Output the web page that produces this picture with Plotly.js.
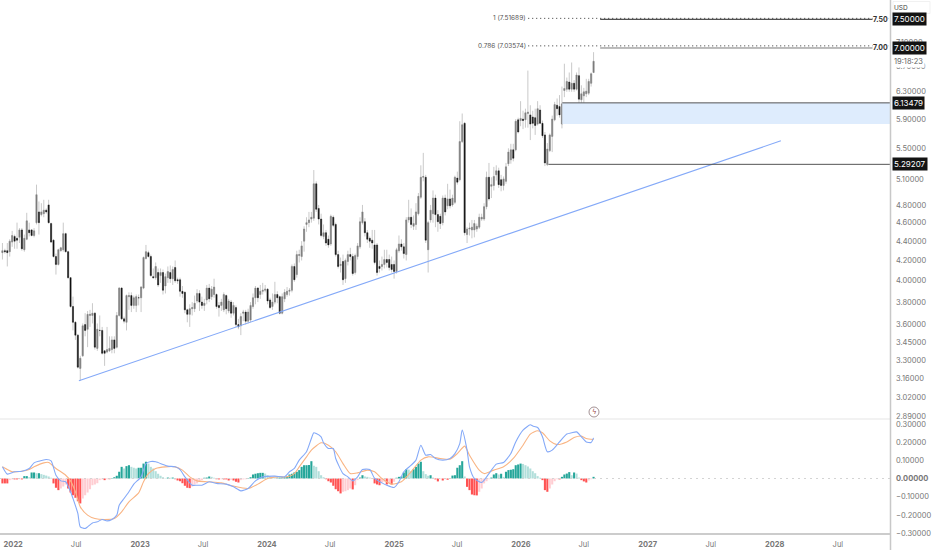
<!DOCTYPE html>
<html>
<head>
<meta charset="utf-8">
<script src="https://cdn.plot.ly/plotly-3.0.1.min.js"></script>
<style>html,body{margin:0;padding:0;background:#fff}#chart{width:932px;height:550px}</style>
</head>
<body>
<div id="chart"></div>
<script>
const firstCandle = '2021-12-01';
const opens = [4.28,4.30,4.30,4.29,4.39,4.45,4.43,4.44,4.52,4.31,
4.42,4.52,4.52,4.46,4.60,4.72,4.69,4.70,4.74,4.80,
4.59,4.41,4.24,4.16,4.30,4.31,4.48,4.29,4.03,3.76,
3.62,3.51,3.24,3.34,3.60,3.56,3.68,3.68,3.70,3.40,
3.55,3.55,3.38,3.37,3.38,3.39,3.47,3.41,3.68,3.93,
3.65,3.62,3.85,3.86,3.77,3.77,3.84,3.84,3.93,4.22,
4.28,4.24,4.04,4.03,4.08,4.05,4.08,3.95,4.03,4.08,
4.02,4.13,4.01,4.01,3.90,3.89,3.73,3.69,3.74,3.74,
3.81,3.88,3.80,3.77,3.82,3.93,3.85,3.87,3.87,3.77,
3.77,3.73,3.86,3.72,3.80,3.70,3.75,3.60,3.59,3.70,
3.71,3.63,3.64,3.76,3.84,3.93,3.87,3.90,3.91,3.92,
3.82,3.76,3.80,3.87,3.85,3.70,3.83,3.87,3.90,3.91,
4.14,4.06,4.25,4.24,4.40,4.58,4.60,4.64,4.65,5.05,
4.76,4.64,4.45,4.49,4.42,4.37,4.66,4.58,4.26,4.15,
4.19,4.02,4.19,4.26,4.24,4.08,4.24,4.34,4.60,4.61,
4.49,4.43,4.41,4.36,4.36,4.14,4.14,4.16,4.21,4.21,
4.16,4.16,4.09,4.30,4.37,4.34,4.26,4.63,4.66,4.56,
4.58,4.70,4.89,5.13,5.13,4.31,4.63,4.70,4.88,4.69,
4.67,4.60,4.88,4.79,4.87,4.80,4.83,5.12,5.10,5.59,
5.84,4.47,4.53,4.52,4.52,4.53,4.55,4.64,4.64,4.78,
5.13,5.02,5.03,5.16,5.21,5.10,5.03,5.08,5.30,5.35,
5.48,5.48,5.89,5.88,5.90,5.89,5.98,5.96,5.93,5.92,
5.83,6.03,5.84,5.68,5.29,5.47,5.66,5.89,6.10,6.08,
5.83,6.32,6.34,6.45,6.34,6.43,6.34,6.55,6.18,6.24,
6.27,6.28,6.43,6.60];
const highs = [4.38,4.32,4.38,4.42,4.51,4.47,4.60,4.54,4.54,4.47,
4.71,4.60,4.53,4.54,5.04,4.84,4.82,4.86,4.76,4.86,
4.60,4.42,4.27,4.32,4.34,4.60,4.49,4.30,4.03,3.85,
3.63,3.52,3.34,3.61,3.70,3.72,3.73,3.79,3.71,3.61,
3.68,3.58,3.38,3.58,3.50,3.50,3.50,3.71,3.94,3.94,
3.67,3.87,3.89,3.89,3.86,3.87,3.87,3.95,4.24,4.36,
4.30,4.26,4.12,4.18,4.12,4.12,4.11,4.07,4.14,4.15,
4.14,4.20,4.03,4.03,3.95,3.90,3.74,3.78,3.80,3.86,
3.92,3.91,3.85,3.83,3.96,3.97,3.95,4.02,3.88,3.80,
3.83,3.89,3.87,3.83,3.82,3.80,3.77,3.65,3.70,3.73,
3.73,3.74,3.80,3.88,3.95,3.94,3.96,3.98,3.96,3.93,
3.84,3.88,3.99,3.90,3.86,3.88,3.92,3.94,3.93,4.16,
4.17,4.30,4.31,4.40,4.56,4.66,4.72,4.72,5.22,5.08,
4.80,4.70,4.58,4.52,4.46,4.69,4.68,4.60,4.30,4.23,
4.26,4.22,4.30,4.33,4.27,4.27,4.38,4.66,4.80,4.65,
4.52,4.45,4.52,4.52,4.38,4.20,4.24,4.31,4.31,4.26,
4.24,4.20,4.33,4.46,4.42,4.38,4.66,4.86,4.76,4.68,
4.82,4.94,5.28,5.44,5.16,4.62,4.80,4.97,4.92,4.74,
4.70,4.91,4.92,5.05,4.98,4.92,5.15,5.20,5.87,5.98,
5.86,4.55,4.60,4.63,4.63,4.59,4.70,4.70,4.82,5.20,
5.31,5.13,5.26,5.28,5.25,5.16,5.14,5.31,5.50,5.56,
5.56,5.90,5.92,6.16,6.02,6.05,6.63,6.10,6.02,6.05,
6.16,6.10,5.88,5.72,5.57,5.70,5.95,6.15,6.20,6.25,
6.38,6.74,6.52,6.60,6.76,6.48,6.60,6.68,6.40,6.36,
6.50,6.50,6.60,6.93];
const lows = [4.21,4.27,4.14,4.24,4.34,4.32,4.32,4.38,4.30,4.29,
4.41,4.45,4.45,4.44,4.58,4.47,4.67,4.66,4.70,4.59,
4.38,4.23,4.06,4.15,4.29,4.29,4.28,4.02,3.75,3.55,
3.47,3.24,3.145,3.33,3.50,3.41,3.58,3.61,3.39,3.38,
3.50,3.35,3.26,3.36,3.37,3.36,3.36,3.40,3.67,3.64,
3.61,3.55,3.73,3.71,3.74,3.71,3.77,3.71,3.92,4.21,
4.23,4.04,4.02,4.01,3.94,3.98,3.87,3.88,3.98,3.98,
3.96,3.98,3.97,3.85,3.84,3.70,3.62,3.58,3.68,3.71,
3.79,3.72,3.74,3.72,3.78,3.80,3.82,3.84,3.74,3.67,
3.72,3.71,3.69,3.70,3.66,3.68,3.58,3.56,3.51,3.63,
3.60,3.61,3.62,3.74,3.78,3.80,3.83,3.87,3.89,3.78,
3.74,3.73,3.78,3.79,3.69,3.69,3.80,3.85,3.86,3.89,
3.99,4.03,4.18,4.20,4.29,4.50,4.55,4.60,4.62,4.72,
4.58,4.44,4.42,4.35,4.33,4.35,4.55,4.24,4.12,4.08,
3.96,3.98,4.15,4.20,4.05,4.06,4.21,4.32,4.58,4.45,
4.38,4.33,4.32,4.16,4.05,4.08,4.10,4.12,4.13,4.10,
4.08,4.02,4.07,4.28,4.30,4.22,4.20,4.60,4.54,4.52,
4.52,4.68,4.87,5.08,4.38,4.08,4.60,4.60,4.55,4.50,
4.53,4.57,4.68,4.75,4.76,4.78,4.81,5.04,5.08,5.57,
4.46,4.38,4.46,4.43,4.44,4.50,4.53,4.62,4.62,4.75,
4.85,4.88,4.97,5.09,5.00,4.96,4.97,5.05,5.27,5.30,
5.33,5.46,5.70,5.80,5.76,5.78,5.78,5.61,5.77,5.68,
5.81,5.83,5.64,5.27,5.27,5.45,5.45,5.87,5.95,5.92,
5.77,6.22,6.30,6.30,6.30,6.30,6.32,5.98,6.02,6.08,
6.22,6.25,6.38,6.59];
const closes = [4.30,4.29,4.28,4.40,4.46,4.40,4.41,4.52,4.32,4.43,
4.62,4.49,4.46,4.51,4.92,4.60,4.72,4.74,4.72,4.60,
4.39,4.24,4.16,4.31,4.33,4.48,4.29,4.03,3.76,3.62,
3.51,3.25,3.32,3.59,3.55,3.69,3.69,3.70,3.41,3.56,
3.55,3.36,3.36,3.39,3.40,3.47,3.40,3.68,3.93,3.65,
3.63,3.86,3.86,3.77,3.84,3.85,3.84,3.94,4.23,4.29,
4.24,4.05,4.03,4.14,3.96,4.08,3.91,4.04,4.09,4.02,
4.11,4.00,4.00,3.90,3.88,3.73,3.69,3.74,3.75,3.79,
3.88,3.80,3.77,3.79,3.93,3.83,3.92,3.94,3.76,3.75,
3.80,3.87,3.74,3.81,3.70,3.77,3.60,3.58,3.67,3.71,
3.63,3.71,3.77,3.84,3.93,3.84,3.90,3.91,3.92,3.81,
3.75,3.80,3.87,3.84,3.70,3.85,3.89,3.90,3.91,4.14,
4.01,4.26,4.26,4.35,4.53,4.60,4.63,4.66,5.05,4.75,
4.64,4.46,4.49,4.38,4.36,4.67,4.57,4.26,4.14,4.16,
4.01,4.20,4.26,4.24,4.07,4.25,4.35,4.61,4.72,4.49,
4.42,4.40,4.38,4.18,4.08,4.12,4.16,4.21,4.18,4.13,
4.11,4.09,4.31,4.37,4.34,4.27,4.63,4.66,4.58,4.59,
4.72,4.90,5.13,5.14,4.41,4.60,4.74,4.88,4.69,4.61,
4.59,4.88,4.72,4.87,4.79,4.88,5.13,5.07,5.59,5.82,
4.49,4.53,4.54,4.55,4.59,4.56,4.66,4.66,4.78,5.13,
4.87,5.04,5.14,5.21,5.04,5.03,5.11,5.26,5.45,5.48,
5.37,5.87,5.72,5.91,5.88,5.99,6.00,5.83,5.84,5.81,
6.05,5.84,5.67,5.31,5.49,5.68,5.90,6.11,6.05,5.96,
6.12,6.35,6.46,6.34,6.43,6.34,6.56,6.19,6.27,6.30,
6.31,6.46,6.58,6.78];
const histogram = [-.027,-.027,-.027,-.009,-.005,-.005,-.005,-.004,-.005,.013,
.013,.007,.033,.033,.029,.029,.024,.02,.016,.011,
.004,-.027,-.051,-.064,-.055,-.044,-.033,-.055,-.077,-.092,
-.106,-.125,-.137,-.11,-.092,-.077,-.059,-.037,-.033,-.026,
-.009,-.005,-.009,-.004,-.004,.002,.007,.015,.037,.064,
.055,.068,.073,.064,.059,.055,.059,.059,.082,.092,
.082,.064,.055,.04,.026,.015,.007,.002,.005,.004,
.005,-.004,-.011,-.015,-.026,-.04,-.051,-.053,-.044,-.033,
-.027,-.018,-.009,.004,.005,.011,.009,.004,-.004,-.005,
-.004,-.005,-.005,-.011,-.007,-.011,-.018,-.022,-.009,-.005,
-.004,.002,.007,.022,.026,.029,.031,.031,.027,.018,
.011,.007,.005,.005,.005,.006,.007,.011,.022,.026,
.033,.037,.046,.064,.073,.073,.074,.095,.07,.064,
.04,.018,.007,-.004,-.015,-.022,-.04,-.059,-.07,-.082,
-.073,-.07,-.064,-.055,-.06,-.037,-.009,.005,.018,.011,
.009,.005,-.002,-.027,-.033,-.037,-.022,-.018,-.033,-.027,
-.033,-.018,.004,.009,.011,.033,.051,.049,.04,.051,
.064,.082,.092,.04,.024,.015,.018,.005,-.005,-.016,
-.004,-.011,-.004,-.007,.002,.016,.018,.059,.073,.095,
.011,-.046,-.064,-.088,-.092,-.093,-.073,-.055,-.027,-.015,
-.004,.005,.022,.029,.022,.026,.009,.037,.046,.048,
.051,.073,.077,.082,.08,.073,.066,.055,.04,.029,
.013,.004,-.009,-.064,-.073,-.055,-.033,-.015,-.004,-.005,
.009,.022,.027,.035,.018,.033,.027,.005,-.009,-.016,
-.022,-.011,-.004,.009];
const macdWeeks = [0,2,5,8,11,13,15,18,20,22,24,26,28,29,31,32,34,35,37,39,41,43,45,47,48,50,52,54,57,59,61,63,66,68,71,73,75,78,80,82,85,88,92,95,98,101,104,107,112,116,118,120,122,125,127,128,129,131,132,134,136,137,140,142,144,146,148,151,153,156,158,161,163,165,168,170,172,174,176,178,181,184,186,188,189,191,192,194,197,200,203,206,209,211,214,217,218,220,222,224,226,229,232,234,236,238,240,242,243];
const macdLine = [.064,.024,.037,.04,.055,.086,.095,.104,.097,.018,-.013,-.018,-.073,-.11,-.192,-.266,-.275,-.266,-.244,-.238,-.225,-.233,-.225,-.201,-.147,-.11,-.073,-.031,.009,.082,.093,.092,.077,.068,.064,.049,.009,-.037,-.037,-.037,-.018,-.027,-.031,-.046,-.068,-.055,-.013,.009,.013,.009,.037,.055,.101,.147,.22,.251,.247,.229,.196,.165,.165,.11,.027,.009,-.013,.009,.049,.049,0,-.024,-.037,-.049,-.018,.037,.073,.101,.183,.128,.132,.11,.101,.11,.137,.192,.266,.156,.064,0,-.022,.027,.079,.088,.137,.201,.266,.295,.288,.28,.229,.147,.156,.201,.244,.251,.256,.229,.201,.198,.223];
const signalWeeks = [0,2,4,8,11,13,17,19,22,26,28,30,32,35,38,42,46,49,52,56,58,60,63,67,71,74,77,80,84,90,95,101,105,109,113,117,120,122,125,127,131,134,137,140,143,146,150,153,156,160,164,168,172,175,180,184,187,190,192,196,198,202,206,210,214,217,220,222,225,228,232,235,238,240,243];
const signalLine = [.064,.049,.037,.04,.049,.064,.086,.088,.055,.018,-.013,-.073,-.156,-.201,-.22,-.225,-.22,-.183,-.128,-.079,-.018,.027,.055,.064,.064,.046,.009,-.013,-.018,-.024,-.042,-.055,-.031,0,.009,.009,.027,.064,.119,.156,.196,.183,.147,.082,.027,.031,.046,.037,0,-.031,-.018,.037,.101,.119,.11,.106,.137,.178,.128,.046,.027,.046,.064,.11,.183,.244,.262,.251,.207,.187,.201,.225,.233,.22,.214];
const trendDates = ['2022-07-09','2028-01-19'];
const trendPrices = [3.145,5.60];
const zoneDates = ['2026-04-30','2028-11-28'];
const zoneTop = 6.13479;
const zoneBottom = 5.83;
const lowLevelStart = '2026-03-21';
const lowLevel = 5.29207;
const fibLevels = [7.51689,7.03574];
const fibLabels = ['1 (7.51689)','0.786 (7.03574)'];
const fibDates = ['2026-01-22','2028-11-24'];
const roundLevels = [7.5,7.0];
const roundLabels = ['7.50','7.00'];
const roundDates = ['2026-08-17','2028-10-12'];
const axisDates = ['2021-11-24','2028-11-28'];
const priceTicks = [7.5,7.1,6.7,6.3,5.9,5.5,5.1,4.8,4.6,4.4,4.2,4.0,3.8,3.6,3.45,3.3,3.16,3.02,2.89];
const priceTickText = ['7.50000','7.10000','6.70000','6.30000','5.90000','5.50000','5.10000','4.80000','4.60000','4.40000','4.20000','4.00000','3.80000','3.60000','3.45000','3.30000','3.16000','3.02000','2.89000'];
const macdTicks = [.3,.2,.1,0,-.1,-.2,-.3];
const macdTickText = ['0.30000','0.20000','0.10000','<b>0.00000</b>','\u22120.10000','\u22120.20000','\u22120.30000'];
const timeTicks = ['2022-01-01','2022-07-01','2023-01-01','2023-07-01','2024-01-01','2024-07-01','2025-01-01','2025-07-01','2026-01-01','2026-07-01','2027-01-01','2027-07-01','2028-01-01','2028-07-01'];
const timeLabels = ['2022','Jul','2023','Jul','2024','Jul','2025','Jul','2026','Jul','2027','Jul','2028','Jul'];

const W = 932, H = 550;
const px = v => v / W, py = v => 1 - v / H;
const font = 'Inter, Roboto, sans-serif';
const day = 864e5;
const start = Date.parse(firstCandle + 'T00:00:00Z');
const dates = opens.map((_, i) => new Date(start + i * 7 * day).toISOString().slice(0, 10));
const bodyHigh = opens.map((o, i) => Math.max(o, closes[i]));
const bodyLow = opens.map((o, i) => Math.min(o, closes[i]));
const histColors = histogram.map((v, i) => {
  const prev = i ? histogram[i - 1] : v;
  if (v >= 0) return v >= prev ? '#26a69a' : '#b2dfdb';
  return v <= prev ? '#ff5252' : '#ffcdd2';
});
const levelLine = {color: '#555', width: 1};

const traces = [
  {type: 'scatter', mode: 'lines', x: [zoneDates[0], zoneDates[1], zoneDates[1], zoneDates[0]],
   y: [zoneTop, zoneTop, zoneBottom, zoneBottom], fill: 'toself', fillcolor: '#deecfd', line: {width: 0}, xaxis: 'x', yaxis: 'y'},
  {type: 'scatter', mode: 'lines', x: trendDates, y: trendPrices, line: {color: '#84a9f8', width: 1.1}, xaxis: 'x', yaxis: 'y'},
  {type: 'candlestick', x: dates, open: opens, high: highs, low: lows, close: closes, whiskerwidth: 0,
   increasing: {line: {color: '#c9c9c9', width: 1}, fillcolor: '#c9c9c9'},
   decreasing: {line: {color: '#c9c9c9', width: 1}, fillcolor: '#c9c9c9'}, xaxis: 'x', yaxis: 'y'},
  {type: 'candlestick', x: dates, open: opens, high: bodyHigh, low: bodyLow, close: closes, whiskerwidth: 0,
   increasing: {line: {color: '#808080', width: 0.4}, fillcolor: '#7b7b7b'},
   decreasing: {line: {color: '#111', width: 0.4}, fillcolor: '#111'}, xaxis: 'x', yaxis: 'y'},
  {type: 'scatter', mode: 'lines', x: [zoneDates[0], zoneDates[1]], y: [zoneTop, zoneTop], line: levelLine, xaxis: 'x', yaxis: 'y'},
  {type: 'scatter', mode: 'lines', x: [lowLevelStart, zoneDates[1]], y: [lowLevel, lowLevel], line: levelLine, xaxis: 'x', yaxis: 'y'},
  ...fibLevels.map(v => ({type: 'scatter', mode: 'lines', x: fibDates, y: [v, v], line: {color: '#333', width: 1, dash: '1px,3px'}, xaxis: 'x', yaxis: 'y'})),
  ...roundLevels.map((v, i) => ({type: 'scatter', mode: 'lines', x: roundDates, y: [v, v], line: {color: i ? '#777' : '#222', width: 1}, xaxis: 'x', yaxis: 'y'})),
  {type: 'scatter', mode: 'lines', x: axisDates, y: [0, 0], line: {color: '#d4d4d4', width: 1, dash: '2px,4px'}, xaxis: 'x', yaxis: 'y2'},
  {type: 'bar', x: dates, y: histogram, marker: {color: histColors, line: {width: 0}}, xaxis: 'x', yaxis: 'y2'},
  {type: 'scatter', mode: 'lines', x: signalWeeks.map(i => dates[i]), y: signalLine, line: {color: '#f9b483', width: 1.1, shape: 'spline', smoothing: 0.6}, xaxis: 'x', yaxis: 'y2'},
  {type: 'scatter', mode: 'lines', x: macdWeeks.map(i => dates[i]), y: macdLine, line: {color: '#84a9f8', width: 1.1, shape: 'spline', smoothing: 0.6}, xaxis: 'x', yaxis: 'y2'}
];

const priceBox = (v, label) => ({xref: 'paper', x: px(892), xanchor: 'left', yref: 'y', y: Math.log10(v), yanchor: 'middle',
  text: label, showarrow: false, bgcolor: '#131313', borderpad: 1, font: {family: font, size: 8, color: '#fff'}});
const annotations = [
  priceBox(7.5, '7.50000'), priceBox(7.0, '7.00000'), priceBox(zoneTop, '6.13479'), priceBox(lowLevel, '5.29207'),
  ...fibLevels.map((v, i) => ({xref: 'paper', x: px(528), xanchor: 'right', yref: 'y', y: Math.log10(v), yanchor: 'middle',
    text: fibLabels[i], showarrow: false, font: {family: font, size: 6.5, color: '#555'}})),
  ...roundLevels.map((v, i) => ({xref: 'paper', x: px(880), xanchor: 'center', yref: 'y', y: Math.log10(v), yanchor: 'middle',
    text: '<b>' + roundLabels[i] + '</b>', showarrow: false, bgcolor: '#fff', borderpad: 0, font: {family: font, size: 7, color: '#333'}})),
  {xref: 'paper', x: px(908), xanchor: 'center', yref: 'paper', y: py(61), yanchor: 'middle', text: '19:18:23', showarrow: false,
    bgcolor: '#fff', borderpad: 1, font: {family: font, size: 7.5, color: '#666'}},
  {xref: 'paper', x: px(901), xanchor: 'center', yref: 'paper', y: py(7.5), yanchor: 'middle', text: 'USD', showarrow: false,
    font: {family: font, size: 6.5, color: '#444'}},
  {xref: 'paper', x: px(594), xanchor: 'center', yref: 'paper', y: py(412), yanchor: 'middle', text: '\u03DF', showarrow: false,
    font: {family: 'DejaVu Sans', size: 7, color: '#a04a4a'}}
];

const shapes = [
  {type: 'line', xref: 'paper', yref: 'paper', x0: 0, x1: px(890), y0: py(419), y1: py(419), line: {color: '#f2f2f2', width: 2}},
  {type: 'line', xref: 'paper', yref: 'paper', x0: 0, x1: px(890), y0: py(534), y1: py(534), line: {color: '#999', width: 1}},
  {type: 'line', xref: 'paper', yref: 'paper', x0: px(890.5), x1: px(890.5), y0: 0, y1: 1, line: {color: '#c8c8c8', width: 1.5}},
  {type: 'circle', xref: 'paper', yref: 'paper', x0: px(589), x1: px(599), y0: py(417), y1: py(407), line: {color: '#8b7579', width: 0.8}},
  {type: 'rect', xref: 'paper', yref: 'paper', x0: px(893), x1: px(930), y0: py(13.5), y1: py(1.5), line: {color: '#eee', width: 0.8}}
];

const tickFont = {family: font, size: 7.5, color: '#777'};
const layout = {
  width: W, height: H, margin: {l: 0, r: 0, t: 0, b: 0, pad: 0}, autosize: false,
  paper_bgcolor: '#fff', plot_bgcolor: '#fff', showlegend: false, hovermode: false,
  boxgap: 0.35, boxmode: 'overlay', bargap: 0.14,
  xaxis: {type: 'date', domain: [0, 890 / W], range: axisDates, anchor: 'y2', showgrid: false, zeroline: false,
    rangeslider: {visible: false}, tickmode: 'array', tickvals: timeTicks, showline: false, ticks: '',
    ticktext: timeLabels.map(t => t === 'Jul' ? t : '<b>' + t + '</b>'), tickfont: tickFont, ticklabelstandoff: 4},
  yaxis: {type: 'log', domain: [1 - 418 / H, 1], range: [Math.log10(2.876), Math.log10(7.856)],
    side: 'right', anchor: 'x', showgrid: false, zeroline: false, tickmode: 'array', tickvals: priceTicks, ticktext: priceTickText,
    tickfont: tickFont, ticks: '', ticklabelstandoff: 5, showline: false},
  yaxis2: {domain: [1 - 534 / H, 1 - 420 / H], range: [-0.305, 0.3214], side: 'right', anchor: 'x', showgrid: false, zeroline: false,
    tickmode: 'array', tickvals: macdTicks, ticktext: macdTickText, tickfont: tickFont, ticks: '', ticklabelstandoff: 5, showline: false},
  annotations, shapes
};
Plotly.newPlot('chart', traces, layout, {staticPlot: true, displayModeBar: false});
</script>
</body>
</html>
